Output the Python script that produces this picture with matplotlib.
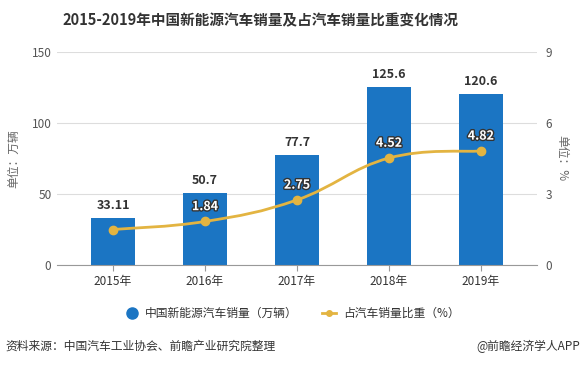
import matplotlib
matplotlib.use("Agg")
import matplotlib.pyplot as plt
import matplotlib.patheffects as pe
from matplotlib.path import Path
from matplotlib.patches import PathPatch
import numpy as np

plt.rcParams['font.family'] = ['Noto Sans CJK SC', 'DejaVu Sans']

years = ['2015年', '2016年', '2017年', '2018年', '2019年']
sales = [33.11, 50.7, 77.7, 125.6, 120.6]
share = [1.5, 1.84, 2.75, 4.52, 4.82]
share_labels = ['', '1.84', '2.75', '4.52', '4.82']

bar_color = '#1b75c3'
line_color = '#e3b441'

fig = plt.figure(figsize=(5.83, 3.66), dpi=100)
W, H = 583, 366
ax1 = fig.add_axes([57 / W, 1 - 265 / H, (537 - 57) / W, (265 - 52) / H])
x = np.arange(len(years))

ax1.bar(x, sales, width=0.47, color=bar_color, zorder=2)
for xi, v in zip(x, sales):
    ax1.text(xi, v + 4, f'{v:g}', ha='center', va='bottom', fontsize=9,
             fontweight='bold', color='#333333')

ax1.set_xlim(-0.61, 4.61)
ax1.set_ylim(0, 150)
ax1.set_yticks([0, 50, 100, 150])
ax1.set_xticks(x)
ax1.set_xticklabels(years)
ax1.grid(axis='y', color='#dddddd', linewidth=0.8, zorder=0)
for s in ['top', 'right', 'left']:
    ax1.spines[s].set_visible(False)
ax1.spines['bottom'].set_color('#999999')
ax1.tick_params(axis='y', length=0, labelsize=8.5, labelcolor='#555555', pad=4)
ax1.tick_params(axis='x', length=4, color='#999999', labelsize=8.5, labelcolor='#333333')
ax1.set_ylabel('单位：万辆', fontsize=8.5, color='#666666', labelpad=8)

ax2 = ax1.twinx()
ax2.set_ylim(0, 9)

# smooth line: bezier segments through the data points (catmull-rom style handles)
pts = np.column_stack([x, share]).astype(float)
verts = [tuple(pts[0])]
codes = [Path.MOVETO]
t = 0.2
for i in range(len(pts) - 1):
    p0 = pts[max(i - 1, 0)]
    p1 = pts[i]
    p2 = pts[i + 1]
    p3 = pts[min(i + 2, len(pts) - 1)]
    c1 = p1 + (p2 - p0) * t
    c2 = p2 - (p3 - p1) * t
    verts += [tuple(c1), tuple(c2), tuple(p2)]
    codes += [Path.CURVE4] * 3
ax2.add_patch(PathPatch(Path(verts, codes), facecolor='none', edgecolor=line_color,
                        linewidth=2, zorder=3))
ax2.plot(x, share, linestyle='none', marker='o', markersize=6, color=line_color, zorder=4)

ax2.set_yticks([0, 3, 6, 9])
for s in ['top', 'right', 'left', 'bottom']:
    ax2.spines[s].set_visible(False)
ax2.tick_params(axis='y', length=0, labelsize=8.5, labelcolor='#555555', pad=6)
ax2.set_ylabel('单位：%', fontsize=8.5, color='#666666', rotation=270, labelpad=12)
for xi, v, lab in zip(x, share, share_labels):
    if lab:
        ax2.text(xi, v + 0.35, lab, ha='center', va='bottom', fontsize=9,
                 fontweight='bold', color='white',
                 path_effects=[pe.withStroke(linewidth=2, foreground='#333333')])

fig.text(260 / W, 1 - 20 / H, '2015-2019年中国新能源汽车销量及占汽车销量比重变化情况',
         ha='center', va='center', fontsize=10.5, fontweight='bold', color='#333333')

# legend
ly = 1 - 313 / H
fig.lines.append(plt.Line2D([132 / W], [ly], marker='o', markersize=8,
                            color=bar_color, transform=fig.transFigure))
fig.text(145 / W, ly, '中国新能源汽车销量（万辆）', va='center', fontsize=8.5, color='#333333')
fig.lines.append(plt.Line2D([322 / W, 336 / W], [ly] * 2,
                            color=line_color, linewidth=2, transform=fig.transFigure))
fig.lines.append(plt.Line2D([329 / W], [ly], marker='o', markersize=4,
                            color=line_color, transform=fig.transFigure))
fig.text(343 / W, ly, '占汽车销量比重（%）', va='center', fontsize=8.5, color='#333333')

fig.text(5 / W, 1 - 346 / H, '资料来源：中国汽车工业协会、前瞻产业研究院整理',
         va='center', fontsize=8.5, color='#333333')
fig.text(580 / W, 1 - 346 / H, '@前瞻经济学人APP', ha='right', va='center',
         fontsize=8.5, color='#333333')

fig.savefig('out.png', dpi=100)
